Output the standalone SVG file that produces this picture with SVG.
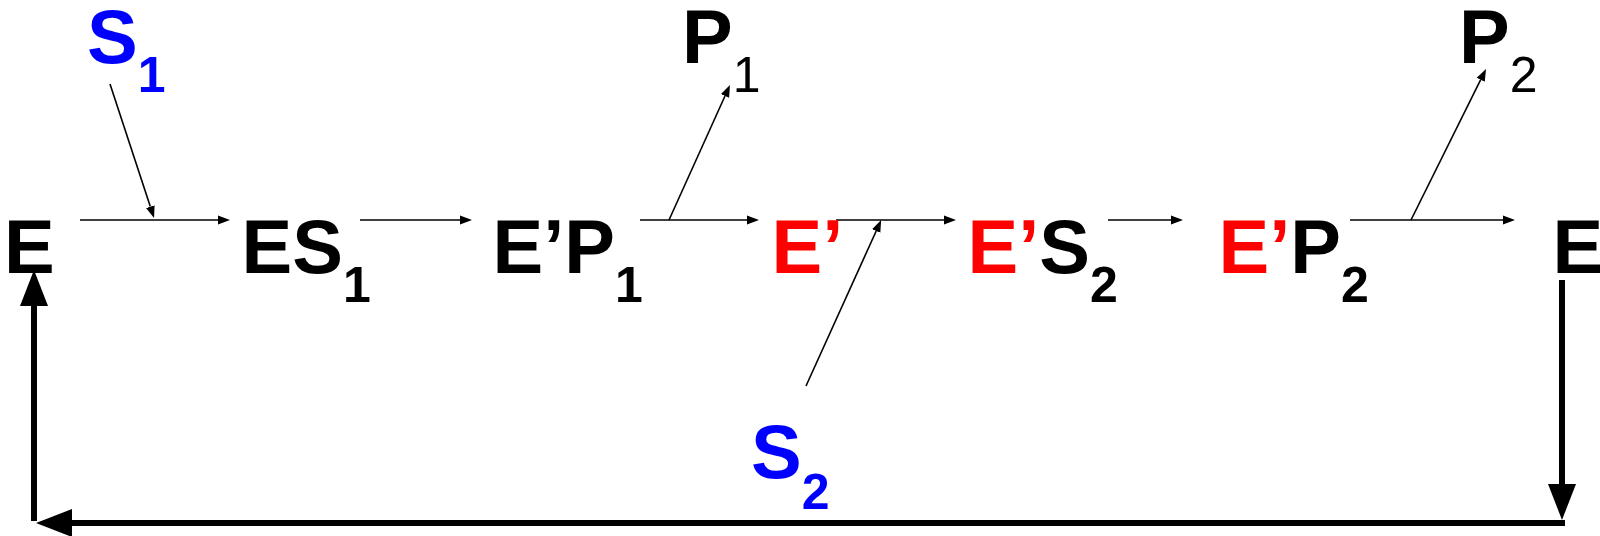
<svg xmlns="http://www.w3.org/2000/svg" width="1600" height="536" viewBox="0 0 1600 536">
<defs>
<style>
.t{font-family:"Liberation Sans",Arial,sans-serif;font-weight:bold;font-size:76px;fill:#000}
.sub{font-size:50px}
.reg{font-weight:normal}
.red{fill:#FF0000}
.blue{fill:#0000FF}
.thin{stroke:#000;stroke-width:1.6;fill:none}
.thick{stroke:#000;stroke-width:6;fill:none}
</style>
<marker id="ah" markerUnits="userSpaceOnUse" markerWidth="13" markerHeight="10" refX="0" refY="4.5" orient="auto" viewBox="0 0 13 9">
<path d="M0,0 L12,4.5 L0,9 z" fill="#000"/>
</marker>
<marker id="AH" markerUnits="userSpaceOnUse" markerWidth="37" markerHeight="28" refX="0" refY="14" orient="auto" viewBox="0 0 37 28">
<path d="M0,0 L36,14 L0,28 z" fill="#000"/>
</marker>
</defs>
<rect width="1600" height="536" fill="#fff"/>
<g id="connectors">
<line class="thin" x1="80" y1="220" x2="218" y2="220" marker-end="url(#ah)"/>
<line class="thin" x1="360" y1="220" x2="460" y2="220" marker-end="url(#ah)"/>
<line class="thin" x1="640" y1="220" x2="747" y2="220" marker-end="url(#ah)"/>
<line class="thin" x1="836" y1="220" x2="944" y2="220" marker-end="url(#ah)"/>
<line class="thin" x1="1108" y1="220" x2="1171" y2="220" marker-end="url(#ah)"/>
<line class="thin" x1="1350" y1="220" x2="1503" y2="220" marker-end="url(#ah)"/>
<line class="thin" x1="110" y1="84" x2="150.3" y2="206.6" marker-end="url(#ah)"/>
<line class="thin" x1="669" y1="220" x2="725" y2="96" marker-end="url(#ah)"/>
<line class="thin" x1="806" y1="386" x2="876.2" y2="231" marker-end="url(#ah)"/>
<line class="thin" x1="1411" y1="220" x2="1480.7" y2="79.7" marker-end="url(#ah)"/>
<line class="thick" x1="1562" y1="280" x2="1562" y2="484" marker-end="url(#AH)"/>
<line class="thick" x1="1565" y1="523" x2="72" y2="523" marker-end="url(#AH)"/>
<line class="thick" x1="34" y1="521" x2="34" y2="306" marker-end="url(#AH)"/>
</g>
<g id="node-E-left"><text class="t" x="4" y="273">E</text></g>
<g id="node-ES1"><text class="t" x="241.5" y="273">ES<tspan class="sub" dy="29">1</tspan></text></g>
<g id="node-EP1"><text class="t" x="492.5" y="273">E’P<tspan class="sub" dy="29">1</tspan></text></g>
<g id="node-Eprime"><text class="t red" x="771.5" y="273">E’</text></g>
<g id="node-ES2"><text class="t" x="967.5" y="273"><tspan class="red">E’</tspan>S<tspan class="sub" dy="29">2</tspan></text></g>
<g id="node-EP2"><text class="t" x="1218.5" y="273"><tspan class="red">E’</tspan>P<tspan class="sub" dy="29">2</tspan></text></g>
<g id="node-E-right"><text class="t" x="1552.5" y="273">E</text></g>
<g id="node-S1"><text class="t blue" x="87" y="63">S<tspan class="sub" dy="29">1</tspan></text></g>
<g id="node-P1"><text class="t" x="682" y="63">P<tspan class="sub reg" dy="29">1</tspan></text></g>
<g id="node-P2"><text class="t" x="1459" y="63">P<tspan class="sub reg" dy="29">2</tspan></text></g>
<g id="node-S2"><text class="t blue" x="751" y="478">S<tspan class="sub" dy="31">2</tspan></text></g>
</svg>
